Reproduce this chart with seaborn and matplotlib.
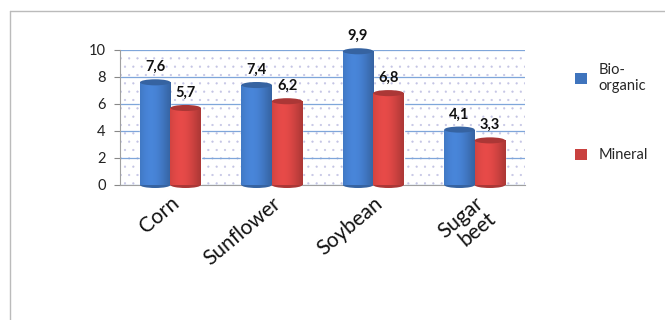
import numpy as np
import pandas as pd
import matplotlib
matplotlib.use("Agg")
import matplotlib.pyplot as plt
import seaborn as sns
from matplotlib.patches import Ellipse, Rectangle, Patch
from matplotlib.colors import to_rgb

categories = ["Corn", "Sunflower", "Soybean", "Sugar\nbeet"]
series = ["Bio-\norganic", "Mineral"]
bio_organic = [7.6, 7.4, 9.9, 4.1]
mineral = [5.7, 6.2, 6.8, 3.3]
yticks = [0, 2, 4, 6, 8, 10]

colors = ["#3F74BD", "#C9413F"]

df = pd.DataFrame({
    "crop": categories * 2,
    "fert": [series[0]] * 4 + [series[1]] * 4,
    "value": bio_organic + mineral,
})

sns.set_style("white")
plt.rcParams["font.family"] = ["Lato", "DejaVu Sans"]
plt.rcParams["hatch.linewidth"] = 0.35

fig = plt.figure(figsize=(6.65, 3.2), dpi=100)
ax = fig.add_axes([0.18, 0.422, 0.61, 0.422])

sns.barplot(data=df, x="crop", y="value", hue="fert", palette=colors,
            width=0.6, ax=ax, legend=False, saturation=1, zorder=3)

ax.set_ylim(0, 10)
ax.set_xlim(-0.5, 3.5)
ax.set_yticks(yticks)
ax.set_yticklabels([str(t) for t in yticks], fontsize=10.5, color="#222222")
ax.yaxis.grid(True, color="#7FA6DA", linewidth=0.9, zorder=0)
ax.set_axisbelow(True)
ax.set_xlabel("")
ax.set_ylabel("")
ax.tick_params(axis="y", length=4, color="#888888", pad=6, left=True)
ax.tick_params(axis="x", length=0, pad=6)
for s in ["top", "right"]:
    ax.spines[s].set_visible(False)
ax.spines["left"].set_color("#A0A0A0")
ax.spines["bottom"].set_color("#A0A0A0")

# dotted back wall
ax.add_patch(Rectangle((0, 0), 1, 1, transform=ax.transAxes, facecolor="none",
                       edgecolor="#C4C4E4", hatch="..", linewidth=0, zorder=0))

# category labels
ax.set_xticks(range(len(categories)))
ax.set_xticklabels(categories, rotation=40, ha="right", rotation_mode="anchor",
                   fontsize=15, color="#111111", linespacing=0.95)

# cylinder shading
grad = np.linspace(0, 1, 64)
prof = 0.55 + 0.45 * np.cos((grad - 0.35) * np.pi)
for i, p in enumerate(ax.patches[:8]):
    x0, y0 = p.get_x(), p.get_y()
    w, h = p.get_width(), p.get_height()
    if h <= 0:
        continue
    base = np.array(to_rgb(p.get_facecolor()))
    img = np.clip(base[None, :] * (0.7 + 0.45 * prof[:, None]), 0, 1)[None, :, :]
    im = ax.imshow(img, extent=[x0, x0 + w, y0, y0 + h], aspect="auto",
                   zorder=4, interpolation="bilinear")
    im.set_clip_path(p)
    ax.add_patch(Ellipse((x0 + w / 2, y0), w, 0.45, facecolor=base * 0.85,
                         edgecolor="none", zorder=3.5, clip_on=False))
    ax.add_patch(Ellipse((x0 + w / 2, y0 + h), w, 0.45,
                         facecolor=np.clip(base * 0.85, 0, 1),
                         edgecolor="none", zorder=5, clip_on=False))
    val = bio_organic[i] if i < 4 else mineral[i - 4]
    ax.text(x0 + w / 2, y0 + h + 0.6, f"{val:.1f}".replace(".", ","),
            ha="center", va="bottom", fontsize=10.5, fontweight="bold",
            color="#111111", zorder=6, clip_on=False)

ax.set_xlim(-0.5, 3.5)
ax.set_ylim(0, 10)

handles = [Patch(facecolor=c, edgecolor="none") for c in colors]
fig.legend(handles, series, loc="upper left", bbox_to_anchor=(0.845, 0.845),
           frameon=False, fontsize=10.5, handlelength=0.8, handleheight=0.8,
           labelspacing=3.8, handletextpad=0.8)

# outer frame
fig.add_artist(plt.Line2D([10 / 665, 10 / 665], [0, 1 - 11 / 320],
                          transform=fig.transFigure, color="#BBBBBB", lw=1))
fig.add_artist(plt.Line2D([10 / 665, 1], [1 - 11 / 320, 1 - 11 / 320],
                          transform=fig.transFigure, color="#BBBBBB", lw=1))

fig.savefig("out.png", dpi=100)
